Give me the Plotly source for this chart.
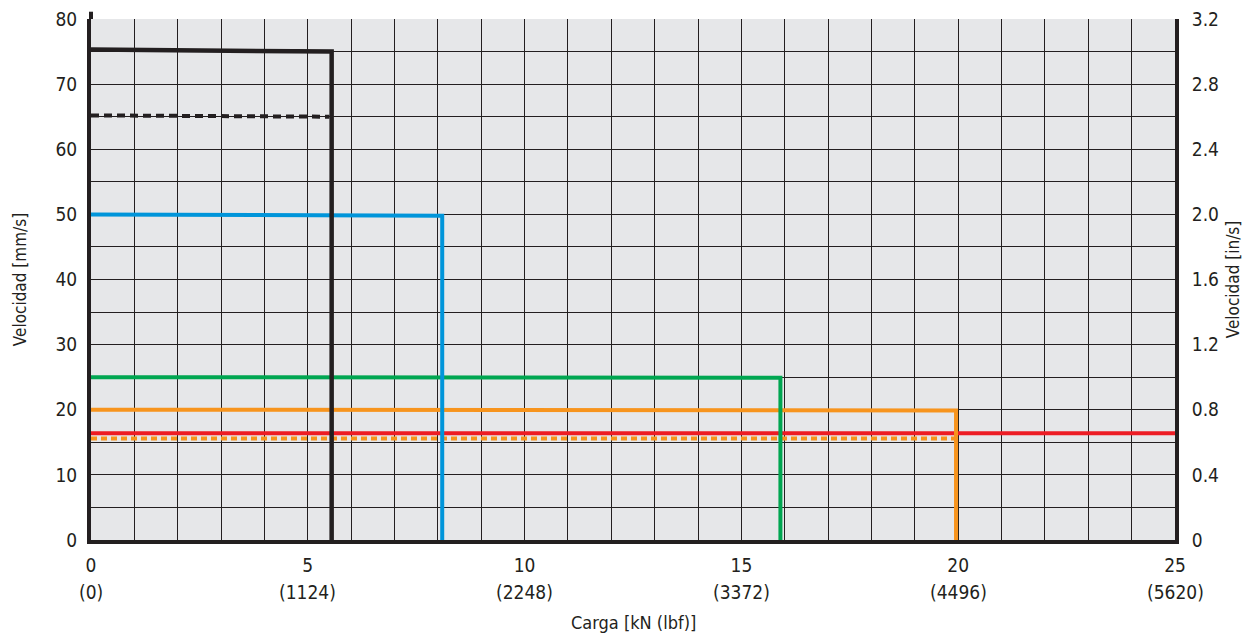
import plotly.graph_objects as go

# Data
black_x = [0, 5.55, 5.55]
black_y = [75.3, 75.0, 0]
black_dash_x = [0, 5.5]
black_dash_y = [65.2, 65.0]
blue_x = [0, 8.1, 8.1]
blue_y = [50.0, 49.8, 0]
green_x = [0, 15.9, 15.9]
green_y = [25.0, 24.9, 0]
orange_x = [0, 19.95, 19.95]
orange_y = [20.0, 19.9, 0]
orange_dash_x = [0, 19.95]
orange_dash_y = [15.6, 15.6]
red_x = [0, 25]
red_y = [16.4, 16.4]

x_tickvals = [0, 5, 10, 15, 20, 25]
x_ticktext = ["0", "5", "10", "15", "20", "25"]
x_lbf_text = ["(0)", "(1124)", "(2248)", "(3372)", "(4496)", "(5620)"]
y_tickvals = [0, 10, 20, 30, 40, 50, 60, 70, 80]
y2_tickvals = [0, 0.4, 0.8, 1.2, 1.6, 2.0, 2.4, 2.8, 3.2]
y2_ticktext = ["0", "0.4", "0.8", "1.2", "1.6", "2.0", "2.4", "2.8", "3.2"]

FONT = "Liberation Sans Narrow, DejaVu Sans Condensed, Arial Narrow, sans-serif"
INK = "#231f20"
TS = 19

fig = go.Figure()

def add(x, y, color, width, dash="solid"):
    fig.add_trace(go.Scatter(x=x, y=y, mode="lines",
                             line=dict(color=color, width=width, dash=dash),
                             showlegend=False, hoverinfo="skip"))

add(red_x, red_y, "#ed1c24", 4)
add(orange_dash_x, orange_dash_y, "#f7941d", 4, "6px,4px")
add(orange_x, orange_y, "#f7941d", 4)
add(green_x, green_y, "#00a651", 4)
add(blue_x, blue_y, "#0095da", 4)
add(black_dash_x, black_dash_y, INK, 4, "8px,5px")
add(black_x, black_y, INK, 4.5)

# invisible trace for the secondary axis
fig.add_trace(go.Scatter(x=[0], y=[0], yaxis="y2", mode="markers",
                         marker=dict(opacity=0), showlegend=False, hoverinfo="skip"))

# lbf labels under the kN tick labels
for xv, txt in zip(x_tickvals, x_lbf_text):
    fig.add_annotation(x=xv, y=0, xref="x", yref="paper", text=txt,
                       showarrow=False, yanchor="top", yshift=-39,
                       font=dict(family=FONT, size=TS, color=INK))

fig.add_annotation(x=0.5, y=0, xref="paper", yref="paper", text="Carga [kN (lbf)]",
                   showarrow=False, yanchor="top", yshift=-70,
                   font=dict(family=FONT, size=18, color=INK))

# left axis line extends slightly above the plot
fig.add_shape(type="line", xref="paper", yref="paper", x0=0, x1=0, y0=1, y1=1.014,
              line=dict(color=INK, width=4))

fig.update_layout(
    width=1253, height=634,
    margin=dict(l=83, r=86, t=11, b=102, autoexpand=False),
    paper_bgcolor="white",
    plot_bgcolor="#e6e7e9",
    font=dict(family=FONT, size=18, color=INK),
    xaxis=dict(range=[0, 25], tickvals=x_tickvals, ticktext=x_ticktext,
               showgrid=True, gridcolor=INK, gridwidth=1,
               minor=dict(dtick=1, showgrid=True, gridcolor=INK, gridwidth=1),
               showline=True, linecolor=INK, linewidth=4, automargin=False,
               zeroline=False, ticks="", tickfont=dict(size=TS), ticklabelstandoff=5,
               ticklabeloverflow="allow"),
    yaxis=dict(range=[0, 80], tickvals=y_tickvals,
               showgrid=True, gridcolor=INK, gridwidth=1,
               minor=dict(dtick=5, showgrid=True, gridcolor=INK, gridwidth=1),
               showline=True, linecolor=INK, linewidth=4, automargin=False,
               zeroline=False, ticks="", tickfont=dict(size=TS), ticklabelstandoff=6,
               ticklabeloverflow="allow",
               title=dict(text="Velocidad [mm/s]", font=dict(size=17), standoff=26)),
    yaxis2=dict(range=[0, 3.2], overlaying="y", side="right",
                tickvals=y2_tickvals, ticktext=y2_ticktext,
                showgrid=False, zeroline=False, automargin=False,
                showline=True, linecolor=INK, linewidth=4,
                ticks="", tickfont=dict(size=TS), ticklabelstandoff=9,
                ticklabeloverflow="allow",
                title=dict(text="Velocidad [in/s]", font=dict(size=17), standoff=10)),
)

fig.write_html("out.html")
